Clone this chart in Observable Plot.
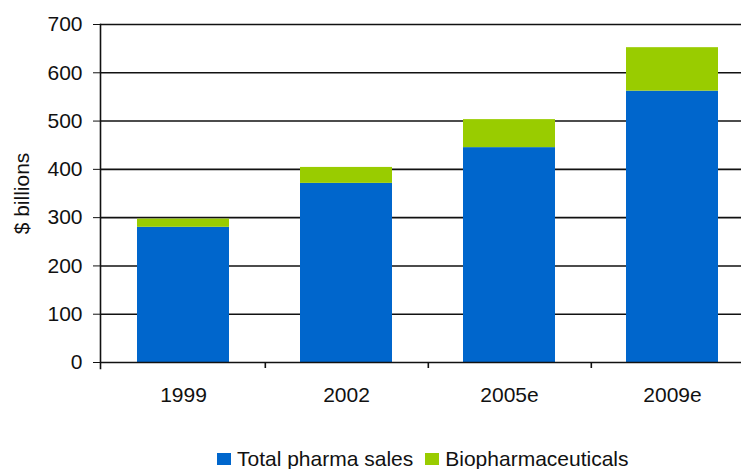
<!DOCTYPE html>
<html>
<head>
<meta charset="utf-8">
<script src="https://cdn.jsdelivr.net/npm/d3@7"></script>
<script src="https://cdn.jsdelivr.net/npm/@observablehq/plot@0.6"></script>
<style>
  body { margin: 0; background: #fff; font-family: "Liberation Sans", Arial, sans-serif; }
  #legend { display: flex; align-items: center; margin-left: 217px; margin-top: 27px; font-size: 21px; color: #111; }
  #legend .sw { display: inline-block; width: 14px; height: 12px; margin-right: 6px; }
  #legend .item { display: flex; align-items: center; margin-right: 12px; }
</style>
</head>
<body>
<div id="chart"></div>
<script>
const years = ["1999", "2002", "2005e", "2009e"];
const totalPharma = [280, 371, 445, 562];
const biopharma = [17, 33, 58, 90];
const seriesNames = ["Total pharma sales", "Biopharmaceuticals"];
const seriesColors = ["#0066CC", "#99CC00"];
const yTicks = [0, 100, 200, 300, 400, 500, 600, 700];

const data = [];
years.forEach((y, i) => {
  data.push({year: y, series: seriesNames[0], value: totalPharma[i]});
  data.push({year: y, series: seriesNames[1], value: biopharma[i]});
});

const xRange = [100, 754.5];
const step = (xRange[1] - xRange[0]) / years.length;

const chart = Plot.plot({
  width: 741,
  height: 420,
  marginLeft: 100,
  marginRight: 0,
  marginTop: 24,
  marginBottom: 58,
  style: {fontFamily: "Liberation Sans, Arial, sans-serif", fontSize: "21px", color: "#111", background: "#fff"},
  x: {domain: years, range: xRange, paddingInner: 0.437, paddingOuter: 0.2185, label: null},
  y: {domain: [0, 700], label: null},
  color: {domain: seriesNames, range: seriesColors},
  marks: [
    Plot.ruleY(yTicks.slice(1), {stroke: "#111", strokeWidth: 1.6}),
    Plot.barY(data, {x: "year", y: "value", fill: "series", order: seriesNames}),
    Plot.ruleY([0], {stroke: "#111", strokeWidth: 1.6}),
    Plot.frame({anchor: "left", stroke: "#111", strokeWidth: 1.6, insetBottom: -6}),
    Plot.axisY({ticks: yTicks, tickSize: 7, tickPadding: 11, stroke: "#111", label: null}),
    Plot.axisX({tickSize: 0, tickPadding: 25, label: null}),
    Plot.axisX(years.slice(0, -1), {tickSize: 6, dx: step / 2, tickFormat: () => "", stroke: "#111", strokeWidth: 1.6, label: null}),
    Plot.text(["$ billions"], {frameAnchor: "left", dx: -78, rotate: -90, textAnchor: "middle", fontSize: 21, fill: "#111"})
  ]
});
document.getElementById("chart").appendChild(chart);

const legend = d3.select("body").append("div").attr("id", "legend");
seriesNames.forEach((name, i) => {
  const item = legend.append("div").attr("class", "item");
  item.append("span").attr("class", "sw").style("background", seriesColors[i]);
  item.append("span").text(name);
});
</script>
</body>
</html>
